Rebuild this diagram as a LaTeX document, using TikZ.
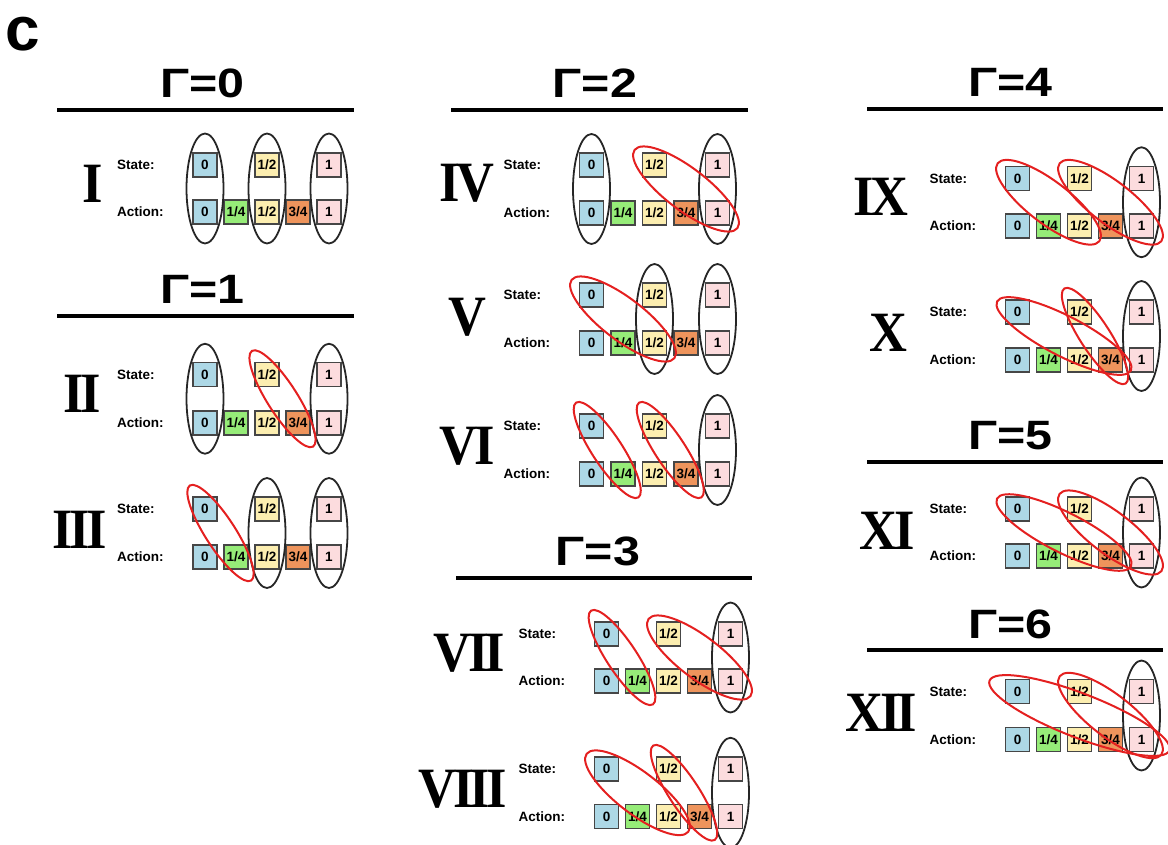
\documentclass[tikz,border=0pt]{standalone}
\usepackage{fontspec}
\setsansfont{Liberation Sans}
\newfontfamily\titlefont{Liberation Sans}[FakeStretch=1.18]
\newfontfamily\numfont{Liberation Serif}[FakeStretch=0.92]
\usetikzlibrary{calc,shapes.geometric}

\definecolor{qzero}{RGB}{173,216,230}
\definecolor{qquart}{RGB}{150,236,120}
\definecolor{qhalf}{RGB}{252,238,176}
\definecolor{qtq}{RGB}{238,148,92}
\definecolor{qone}{RGB}{252,220,222}
\definecolor{ringred}{RGB}{228,32,32}
\definecolor{boxline}{RGB}{70,70,70}

\tikzset{
  cell/.style={draw=boxline, line width=1.2pt, minimum size=24pt, inner sep=0pt,
    font=\sffamily\bfseries\fontsize{13.5}{13.5}\selectfont},
  lab/.style={anchor=west, inner sep=0pt, font=\sffamily\bfseries\fontsize{13.5}{14}\selectfont},
  numeral/.style={inner sep=0pt, font=\numfont\bfseries\fontsize{57}{57}\selectfont},
  title/.style={anchor=base, inner sep=0pt, font=\titlefont\bfseries\fontsize{41}{41}\selectfont},
  rule/.style={line width=3.5pt},
  blackring/.style={ellipse, draw=black!85, line width=1.8pt, inner sep=0pt,
    minimum width=37pt, minimum height=110pt},
  redring/.style={ellipse, draw=ringred, line width=2pt, inner sep=0pt},
}

% tight letter spacing inside the roman numerals
\newcommand\tk{\kern-3.5pt}

% one state/action panel: id, x of first column, column step, state row y, action row y
\newcommand\drawpanel[5]{%
  \node[lab] (#1st) at ({#2-88},#4) {State:};
  \node[lab] (#1ac) at ({#2-88},#5) {Action:};
  \node[cell,fill=qzero]  (#1s0) at (#2,#4) {0};
  \node[cell,fill=qhalf]  (#1s2) at ({#2+2*#3},#4) {1/2};
  \node[cell,fill=qone]   (#1s4) at ({#2+4*#3},#4) {1};
  \node[cell,fill=qzero]  (#1a0) at (#2,#5) {0};
  \node[cell,fill=qquart] (#1a1) at ({#2+#3},#5) {1/4};
  \node[cell,fill=qhalf]  (#1a2) at ({#2+2*#3},#5) {1/2};
  \node[cell,fill=qtq]    (#1a3) at ({#2+3*#3},#5) {3/4};
  \node[cell,fill=qone]   (#1a4) at ({#2+4*#3},#5) {1};
}

% upright black loop round column #3 of panel #2
\newcommand\colring[3]{\node[blackring] (#1) at ($(#2s#3)!0.5!(#2a#3)$) {};}

% slanted red loop joining a state cell to an action cell: name, from, to, overhang, half-width
\newcommand\pairring[5]{%
  \path let \p1=(#2), \p2=(#3),
    \n1={atan2(\y2-(\y1),\x2-(\x1))},
    \n2={veclen(\x2-(\x1),\y2-(\y1))+2*#4} in
    node[redring, minimum width=\n2, minimum height={2*#5}, rotate=\n1] (#1)
      at ($(#2)!0.5!(#3)$) {};}

\begin{document}
\begin{tikzpicture}[x=1pt,y=-1pt]
\useasboundingbox (0,0) rectangle (1168,844);

\node[anchor=base west, inner sep=0pt, font=\sffamily\bfseries\fontsize{62}{62}\selectfont] (tag) at (5,50) {c};

% section headings
\node[title] (g0) at (202.5,97) {Γ=0};
\draw[rule] (57,110) -- (354,110);
\node[title] (g1) at (202.5,303) {Γ=1};
\draw[rule] (57,316) -- (354,316);
\node[title] (g2) at (595,97) {Γ=2};
\draw[rule] (451,110) -- (748,110);
\node[title] (g3) at (598,565) {Γ=3};
\draw[rule] (456,578) -- (752,578);
\node[title] (g4) at (1010.5,96) {Γ=4};
\draw[rule] (867,109) -- (1163,109);
\node[title] (g5) at (1010.5,449) {Γ=5};
\draw[rule] (867,462) -- (1163,462);
\node[title] (g6) at (1010.5,638) {Γ=6};
\draw[rule] (867,650) -- (1163,650);

% panels
\drawpanel{pA}{205}{31}{165}{212}
\drawpanel{pB}{205}{31}{374.5}{423}
\drawpanel{pC}{205}{31}{509}{557}
\drawpanel{pD}{591.5}{31.5}{165}{213}
\drawpanel{pE}{591.5}{31.5}{295}{343}
\drawpanel{pF}{591.5}{31.5}{426}{474}
\drawpanel{pG}{606.5}{31}{634}{681}
\drawpanel{pH}{606.5}{31}{769}{816.5}
\drawpanel{pI}{1017.5}{31}{178.5}{226}
\drawpanel{pJ}{1017.5}{31}{312}{360}
\drawpanel{pK}{1017.5}{31}{509}{556}
\drawpanel{pL}{1017.5}{31}{691.5}{739.5}

% roman numerals
\node[numeral] (nA) at (93,184) {I};
\node[numeral] (nB) at (82,394) {I\tk I};
\node[numeral] (nC) at (79.5,530) {I\tk I\tk I};
\node[numeral] (nD) at (467,183) {I\tk V};
\node[numeral] (nE) at (467,317) {V};
\node[numeral] (nF) at (467,446) {V\tk I};
\node[numeral] (nG) at (469.5,653) {V\tk I\tk I};
\node[numeral] (nH) at (463,789) {V\tk I\tk I\tk I};
\node[numeral] (nI) at (880.5,196.5) {I\tk X};
\node[numeral] (nJ) at (888,333) {X};
\node[numeral] (nK) at (887,531) {X\tk I};
\node[numeral] (nL) at (881.5,712.5) {X\tk I\tk I};

% black loops
\colring{kA0}{pA}{0} \colring{kA2}{pA}{2} \colring{kA4}{pA}{4}
\colring{kB0}{pB}{0} \colring{kB4}{pB}{4}
\colring{kC2}{pC}{2} \colring{kC4}{pC}{4}
\colring{kD0}{pD}{0} \colring{kD4}{pD}{4}
\colring{kE2}{pE}{2} \colring{kE4}{pE}{4}
\colring{kF4}{pF}{4}
\colring{kG4}{pG}{4}
\colring{kH4}{pH}{4}
\colring{kI4}{pI}{4}
\colring{kJ4}{pJ}{4}
\colring{kK4}{pK}{4}
\colring{kL4}{pL}{4}

% red loops
\pairring{rB1}{pBs2}{pBa3}{28}{15}
\pairring{rC1}{pCs0}{pCa1}{28}{15}
\pairring{rD1}{pDs2}{pDa4}{25}{21}
\pairring{rE1}{pEs0}{pEa2}{25}{21}
\pairring{rF1}{pFs0}{pFa1}{28}{15}
\pairring{rF2}{pFs2}{pFa3}{28}{15}
\pairring{rG1}{pGs0}{pGa1}{28}{15}
\pairring{rG2}{pGs2}{pGa4}{25}{21}
\pairring{rH1}{pHs0}{pHa2}{25}{21}
\pairring{rH2}{pHs2}{pHa3}{28}{15}
\pairring{rI1}{pIs0}{pIa2}{25}{21}
\pairring{rI2}{pIs2}{pIa4}{25}{21}
\pairring{rJ1}{pJs0}{pJa3}{23}{20}
\pairring{rJ2}{pJs2}{pJa3}{28}{15}
\pairring{rK1}{pKs0}{pKa3}{23}{20}
\pairring{rK2}{pKs2}{pKa4}{25}{21}
\pairring{rL1}{pLs0}{pLa4}{30}{22}
\pairring{rL2}{pLs2}{pLa4}{25}{21}

\end{tikzpicture}
\end{document}
